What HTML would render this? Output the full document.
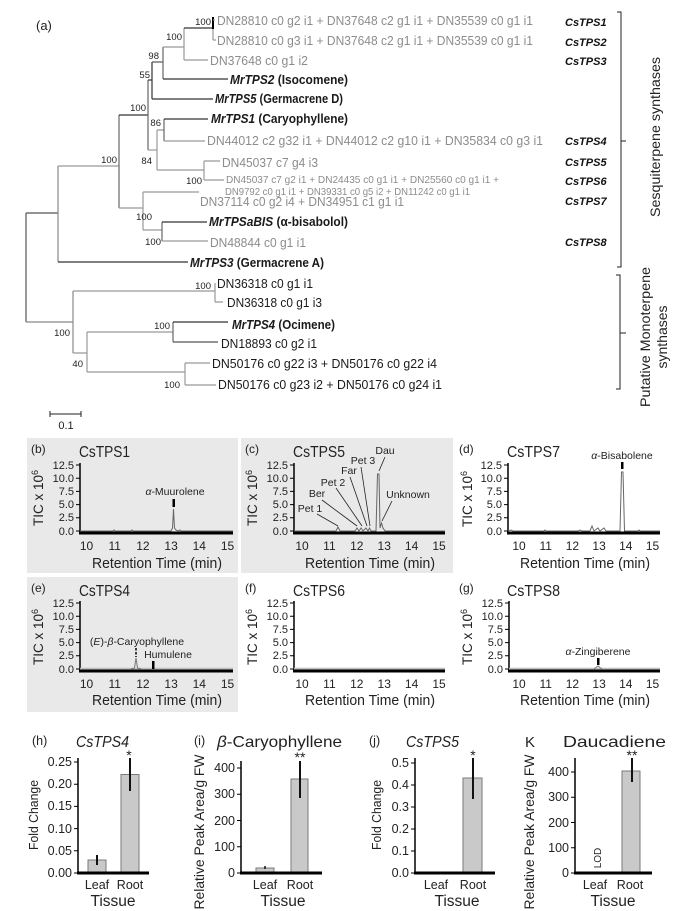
<!DOCTYPE html>
<html><head><meta charset="utf-8">
<style>
html,body{margin:0;padding:0;background:#fff;}
svg{display:block;font-family:"Liberation Sans","DejaVu Sans",sans-serif;}
.g{fill:#8c8c8c}
.k{fill:#1a1a1a}
.n{fill:#222;font-size:9.5px;text-anchor:end}
.cs{font-weight:bold;font-style:italic;font-size:11px;fill:#111}
.tl{font-size:11px;text-anchor:end;fill:#222}
.xl{font-size:12px;text-anchor:middle;fill:#222}
.ann{font-size:10.5px;text-anchor:middle;fill:#222}
.bl{font-size:12.5px;text-anchor:end;fill:#222}
.bx{font-size:12.5px;text-anchor:middle;fill:#222}
</style></head><body>
<svg width="678" height="911" viewBox="0 0 678 911" xmlns="http://www.w3.org/2000/svg">
<rect width="678" height="911" fill="#fff"/>

<!-- ============ (a) TREE ============ -->
<text x="36" y="30" font-size="13" fill="#222">(a)</text>
<g stroke-width="1.2" fill="none">
<path stroke="#555" d="M26,213V322 M26,213H58"/>
<path stroke="#888" d="M26,322H73 M58,166V262"/>
<path stroke="#333" d="M58,262H188"/>
<path stroke="#999" d="M58,166H119"/>
<path stroke="#666" d="M119,115V208"/>
<path stroke="#333" d="M119,115H148"/>
<path stroke="#999" d="M119,208H143"/>
<path stroke="#666" d="M148,80V150"/>
<path stroke="#333" d="M148,80H152"/>
<path stroke="#999" d="M148,150H157"/>
<path stroke="#333" d="M152,62V99 M152,99H213"/>
<path stroke="#555" d="M152,62H163"/>
<path stroke="#666" d="M163,47V79"/>
<path stroke="#999" d="M163,47H184"/>
<path stroke="#333" d="M163,79H228"/>
<path stroke="#999" d="M184,28V60 M184,60H208"/>
<path stroke="#333" d="M184,28H213"/>
<path stroke="#000" stroke-width="2" d="M213,17V29"/>
<path stroke="#999" d="M213,29V40 M213,40H216 M213,20H215"/>
<path stroke="#999" d="M157,130V170 M157,130H164 M157,170H204"/>
<path stroke="#666" d="M164,119V141"/>
<path stroke="#333" d="M164,119H208"/>
<path stroke="#999" d="M164,141H205 M204,161V180 M204,161H220 M204,180H224"/>
<path stroke="#999" d="M143,192V230 M143,192H199 M143,230H162"/>
<path stroke="#666" d="M162,222V241"/>
<path stroke="#333" d="M162,222H207"/>
<path stroke="#999" d="M162,241H208"/>
<path stroke="#888" d="M73,291V353"/>
<path stroke="#999" d="M73,291H215 M73,353H87 M215,283V302 M215,302H223 M87,332V372 M87,332H173 M87,372H185"/>
<path stroke="#666" d="M173,322V342"/>
<path stroke="#333" d="M173,322H228"/>
<path stroke="#555" d="M173,342H218"/>
<path stroke="#999" d="M185,363V385 M185,363H210 M185,385H216"/>
</g>

<g font-size="12.5">
<text x="217" y="25" class="g" textLength="316" lengthAdjust="spacingAndGlyphs">DN28810 c0 g2 i1 + DN37648 c2 g1 i1 + DN35539 c0 g1 i1</text>
<text x="217" y="45" class="g" textLength="316" lengthAdjust="spacingAndGlyphs">DN28810 c0 g3 i1 + DN37648 c2 g1 i1 + DN35539 c0 g1 i1</text>
<text x="210" y="65" class="g" textLength="98" lengthAdjust="spacingAndGlyphs">DN37648 c0 g1 i2</text>
<text x="230" y="84" class="k" font-weight="bold" textLength="118" lengthAdjust="spacingAndGlyphs"><tspan font-style="italic">MrTPS2</tspan> (Isocomene)</text>
<text x="215" y="103" class="k" font-weight="bold" textLength="128" lengthAdjust="spacingAndGlyphs"><tspan font-style="italic">MrTPS5</tspan> (Germacrene D)</text>
<text x="211" y="123" class="k" font-weight="bold" textLength="137" lengthAdjust="spacingAndGlyphs"><tspan font-style="italic">MrTPS1</tspan> (Caryophyllene)</text>
<text x="207" y="145" class="g" textLength="336" lengthAdjust="spacingAndGlyphs">DN44012 c2 g32 i1 + DN44012 c2 g10 i1 + DN35834 c0 g3 i1</text>
<text x="222" y="167" class="g" textLength="96" lengthAdjust="spacingAndGlyphs">DN45037 c7 g4 i3</text>
<text x="226" y="183" class="g" font-size="10.5" textLength="273" lengthAdjust="spacingAndGlyphs">DN45037 c7 g2 i1 + DN24435 c0 g1 i1 + DN25560 c0 g1 i1 +</text>
<text x="225" y="195" class="g" font-size="10.5" textLength="245" lengthAdjust="spacingAndGlyphs">DN9792 c0 g1 i1 + DN39331 c0 g5 i2 + DN11242 c0 g1 i1</text>
<text x="200" y="206" class="g" textLength="204" lengthAdjust="spacingAndGlyphs">DN37114 c0 g2 i4 + DN34951 c1 g1 i1</text>
<text x="209" y="226" class="k" font-weight="bold" textLength="139" lengthAdjust="spacingAndGlyphs"><tspan font-style="italic">MrTPSaBIS</tspan> (α-bisabolol)</text>
<text x="210" y="247" class="g" textLength="96" lengthAdjust="spacingAndGlyphs">DN48844 c0 g1 i1</text>
<text x="190" y="267" class="k" font-weight="bold" textLength="134" lengthAdjust="spacingAndGlyphs"><tspan font-style="italic">MrTPS3</tspan> (Germacrene A)</text>
<text x="217" y="288" class="k" textLength="96" lengthAdjust="spacingAndGlyphs">DN36318 c0 g1 i1</text>
<text x="227" y="307" class="k" textLength="95" lengthAdjust="spacingAndGlyphs">DN36318 c0 g1 i3</text>
<text x="232" y="329" class="k" font-weight="bold" textLength="103" lengthAdjust="spacingAndGlyphs"><tspan font-style="italic">MrTPS4</tspan> (Ocimene)</text>
<text x="221" y="348" class="k" textLength="96" lengthAdjust="spacingAndGlyphs">DN18893 c0 g2 i1</text>
<text x="212" y="368" class="k" textLength="225" lengthAdjust="spacingAndGlyphs">DN50176 c0 g22 i3 + DN50176 c0 g22 i4</text>
<text x="218" y="389" class="k" textLength="224" lengthAdjust="spacingAndGlyphs">DN50176 c0 g23 i2 + DN50176 c0 g24 i1</text>
</g>

<text x="565" y="26" class="cs">CsTPS1</text>
<text x="565" y="46" class="cs">CsTPS2</text>
<text x="565" y="65" class="cs">CsTPS3</text>
<text x="565" y="145" class="cs">CsTPS4</text>
<text x="565" y="166" class="cs">CsTPS5</text>
<text x="565" y="185" class="cs">CsTPS6</text>
<text x="565" y="205" class="cs">CsTPS7</text>
<text x="565" y="246" class="cs">CsTPS8</text>

<text x="211" y="25" class="n">100</text>
<text x="182" y="40" class="n">100</text>
<text x="159" y="59" class="n">98</text>
<text x="150" y="78" class="n">55</text>
<text x="146" y="111" class="n">100</text>
<text x="161" y="126" class="n">86</text>
<text x="152" y="164" class="n">84</text>
<text x="117" y="163" class="n">100</text>
<text x="202" y="184" class="n">100</text>
<text x="152" y="220" class="n">100</text>
<text x="161" y="245" class="n">100</text>
<text x="211" y="289" class="n">100</text>
<text x="170" y="329" class="n">100</text>
<text x="70" y="336" class="n">100</text>
<text x="83" y="367" class="n">40</text>
<text x="180" y="388" class="n">100</text>

<!-- brackets -->
<g stroke="#222" stroke-width="1" fill="none">
<path d="M617,12H621V267H617 M621,141H626"/>
<path d="M616,275H620V389H616 M620,333H626"/>
</g>
<text transform="translate(660,137) rotate(-90)" text-anchor="middle" font-size="14" fill="#222" textLength="160" lengthAdjust="spacingAndGlyphs">Sesquiterpene synthases</text>
<text transform="translate(650,337) rotate(-90)" text-anchor="middle" font-size="14" fill="#222" textLength="140" lengthAdjust="spacingAndGlyphs">Putative Monoterpene</text>
<text transform="translate(667,337) rotate(-90)" text-anchor="middle" font-size="14" fill="#222">synthases</text>

<!-- scale bar -->
<path d="M50,414H81 M50,411V417 M81,411V417" stroke="#222" stroke-width="1" fill="none"/>
<text x="66" y="429" font-size="11" text-anchor="middle" fill="#222">0.1</text>

<!-- ============ CHROMATOGRAMS ============ -->
<rect x="27" y="438" width="211" height="135" fill="#e9e9e9"/>
<rect x="241" y="438" width="212" height="135" fill="#e9e9e9"/>
<rect x="27" y="577" width="211" height="135" fill="#e9e9e9"/>

<!-- Panel b -->
<text x="31" y="453" font-size="12" fill="#222">(b)</text>
<text x="79" y="457" font-size="16" fill="#222" textLength="51" lengthAdjust="spacingAndGlyphs">CsTPS1</text>
<line x1="80" y1="463" x2="80" y2="534" stroke="#000" stroke-width="1.5"/>
<path d="M76,465H80 M76,478.2H80 M76,491.4H80 M76,504.6H80 M76,517.8H80 M76,531H80" stroke="#000" stroke-width="1"/>
<text x="74" y="469" class="tl">12.5</text><text x="74" y="482" class="tl">10.0</text><text x="74" y="495" class="tl">7.5</text><text x="74" y="508" class="tl">5.0</text><text x="74" y="521" class="tl">2.5</text><text x="74" y="535" class="tl">0.0</text>
<line x1="79" y1="533" x2="233" y2="533" stroke="#000" stroke-width="3"/>
<text x="86.5" y="550" class="xl">10</text><text x="114.7" y="550" class="xl">11</text><text x="142.9" y="550" class="xl">12</text><text x="171.1" y="550" class="xl">13</text><text x="199.3" y="550" class="xl">14</text><text x="227.5" y="550" class="xl">15</text>
<text x="157" y="568" font-size="15" text-anchor="middle" fill="#222" textLength="130" lengthAdjust="spacingAndGlyphs">Retention Time (min)</text>
<text transform="translate(43,498) rotate(-90)" text-anchor="middle" font-size="13.5" fill="#222">TIC x 10<tspan dy="-5" font-size="9">6</tspan></text>
<path d="M80,531H113l1,-1l1,1H131l1,-1l1,1H171L172.5,528L173.5,509L174.5,528L176,530L178,531L180,530l1,1H233" stroke="#666" stroke-width="1" fill="none"/>
<rect x="172.5" y="499" width="2.5" height="8" fill="#000"/>
<text x="175" y="495" class="ann"><tspan font-style="italic">α</tspan>-Muurolene</text>

<!-- Panel c -->
<text x="245" y="453" font-size="12" fill="#222">(c)</text>
<text x="293" y="457" font-size="16" fill="#222" textLength="52" lengthAdjust="spacingAndGlyphs">CsTPS5</text>
<line x1="294" y1="463" x2="294" y2="534" stroke="#000" stroke-width="1.5"/>
<path d="M290,465H294 M290,478.2H294 M290,491.4H294 M290,504.6H294 M290,517.8H294 M290,531H294" stroke="#000" stroke-width="1"/>
<text x="288" y="469" class="tl">12.5</text><text x="288" y="482" class="tl">10.0</text><text x="288" y="495" class="tl">7.5</text><text x="288" y="508" class="tl">5.0</text><text x="288" y="521" class="tl">2.5</text><text x="288" y="535" class="tl">0.0</text>
<line x1="293" y1="533" x2="445" y2="533" stroke="#000" stroke-width="3"/>
<text x="302" y="550" class="xl">10</text><text x="329.4" y="550" class="xl">11</text><text x="356.8" y="550" class="xl">12</text><text x="384.2" y="550" class="xl">13</text><text x="411.6" y="550" class="xl">14</text><text x="439" y="550" class="xl">15</text>
<text x="370" y="568" font-size="15" text-anchor="middle" fill="#222" textLength="130" lengthAdjust="spacingAndGlyphs">Retention Time (min)</text>
<text transform="translate(257,498) rotate(-90)" text-anchor="middle" font-size="13.5" fill="#222">TIC x 10<tspan dy="-5" font-size="9">6</tspan></text>
<path d="M294,531H336L338,527L340,531H355L357,528L359,531L361,528L363,531L366,528L368,531L369.5,528L371,531H376L377.5,474L379,474L380,528L381.5,523L383,528L385,531H445" stroke="#666" stroke-width="1" fill="none"/>
<g stroke="#222" stroke-width="0.8">
<line x1="317" y1="514" x2="338" y2="526"/>
<line x1="322" y1="500" x2="357" y2="526"/>
<line x1="336" y1="488" x2="362" y2="526"/>
<line x1="350" y1="477" x2="367" y2="526"/>
<line x1="361" y1="467" x2="370" y2="526"/>
<line x1="385" y1="457" x2="379" y2="471"/>
<line x1="392" y1="501" x2="382" y2="521"/>
</g>
<text x="310" y="512" class="ann">Pet 1</text>
<text x="317" y="497" class="ann">Ber</text>
<text x="333" y="486" class="ann">Pet 2</text>
<text x="349" y="474" class="ann">Far</text>
<text x="363" y="464" class="ann">Pet 3</text>
<text x="385" y="454" class="ann">Dau</text>
<text x="408" y="498" class="ann">Unknown</text>

<!-- Panel d -->
<text x="459" y="453" font-size="12" fill="#222">(d)</text>
<text x="507" y="457" font-size="16" fill="#222" textLength="53" lengthAdjust="spacingAndGlyphs">CsTPS7</text>
<line x1="508" y1="463" x2="508" y2="534" stroke="#000" stroke-width="1.5"/>
<path d="M504,465H508 M504,478.2H508 M504,491.4H508 M504,504.6H508 M504,517.8H508 M504,531H508" stroke="#000" stroke-width="1"/>
<text x="502" y="469" class="tl">12.5</text><text x="502" y="482" class="tl">10.0</text><text x="502" y="495" class="tl">7.5</text><text x="502" y="508" class="tl">5.0</text><text x="502" y="521" class="tl">2.5</text><text x="502" y="535" class="tl">0.0</text>
<line x1="507" y1="533" x2="660" y2="533" stroke="#000" stroke-width="3"/>
<text x="519" y="550" class="xl">10</text><text x="545.7" y="550" class="xl">11</text><text x="572.4" y="550" class="xl">12</text><text x="599.1" y="550" class="xl">13</text><text x="625.8" y="550" class="xl">14</text><text x="652.5" y="550" class="xl">15</text>
<text x="585" y="568" font-size="15" text-anchor="middle" fill="#222" textLength="130" lengthAdjust="spacingAndGlyphs">Retention Time (min)</text>
<text transform="translate(472,499) rotate(-90)" text-anchor="middle" font-size="13.5" fill="#222">TIC x 10<tspan dy="-5" font-size="9">6</tspan></text>
<path d="M508,531l3,-1l2,1H544l1,-1l1,1H578l2,-1l2,1H590L592,526L594,531L598,528L600,531L604,528L606,531H620L621.5,472L623,472L624.5,531H638l1,-1l1,1H660" stroke="#666" stroke-width="1" fill="none"/>
<rect x="621" y="462" width="2.5" height="7" fill="#000"/>
<text x="622" y="459" class="ann"><tspan font-style="italic">α</tspan>-Bisabolene</text>

<!-- Panel e -->
<text x="31" y="592" font-size="12" fill="#222">(e)</text>
<text x="79" y="596" font-size="16" fill="#222" textLength="51" lengthAdjust="spacingAndGlyphs">CsTPS4</text>
<line x1="80" y1="601" x2="80" y2="672" stroke="#000" stroke-width="1.5"/>
<path d="M76,603H80 M76,616.2H80 M76,629.4H80 M76,642.6H80 M76,655.8H80 M76,669H80" stroke="#000" stroke-width="1"/>
<text x="74" y="607" class="tl">12.5</text><text x="74" y="620" class="tl">10.0</text><text x="74" y="633" class="tl">7.5</text><text x="74" y="646" class="tl">5.0</text><text x="74" y="659" class="tl">2.5</text><text x="74" y="673" class="tl">0.0</text>
<line x1="80" y1="669" x2="233" y2="669" stroke="#bdbdbd" stroke-width="2.5"/>
<line x1="79" y1="671" x2="233" y2="671" stroke="#000" stroke-width="3"/>
<text x="86.5" y="688" class="xl">10</text><text x="114.7" y="688" class="xl">11</text><text x="142.9" y="688" class="xl">12</text><text x="171.1" y="688" class="xl">13</text><text x="199.3" y="688" class="xl">14</text><text x="227.5" y="688" class="xl">15</text>
<text x="157" y="705" font-size="15" text-anchor="middle" fill="#222" textLength="130" lengthAdjust="spacingAndGlyphs">Retention Time (min)</text>
<text transform="translate(43,637) rotate(-90)" text-anchor="middle" font-size="13.5" fill="#222">TIC x 10<tspan dy="-5" font-size="9">6</tspan></text>
<path d="M131,669L134.5,668L136,658L137.5,668L141,669" stroke="#777" stroke-width="1" fill="none"/>
<line x1="136" y1="648" x2="136" y2="657" stroke="#000" stroke-width="1.5" stroke-dasharray="2.5,1.5"/>
<rect x="152" y="661" width="2.5" height="8" fill="#000"/>
<text x="137" y="645" class="ann">(<tspan font-style="italic">E</tspan>)-<tspan font-style="italic">β</tspan>-Caryophyllene</text>
<text x="168" y="658" class="ann">Humulene</text>

<!-- Panel f -->
<text x="245" y="592" font-size="12" fill="#222">(f)</text>
<text x="293" y="596" font-size="16" fill="#222" textLength="52" lengthAdjust="spacingAndGlyphs">CsTPS6</text>
<line x1="294" y1="601" x2="294" y2="672" stroke="#000" stroke-width="1.5"/>
<path d="M290,603H294 M290,616.2H294 M290,629.4H294 M290,642.6H294 M290,655.8H294 M290,669H294" stroke="#000" stroke-width="1"/>
<text x="288" y="607" class="tl">12.5</text><text x="288" y="620" class="tl">10.0</text><text x="288" y="633" class="tl">7.5</text><text x="288" y="646" class="tl">5.0</text><text x="288" y="659" class="tl">2.5</text><text x="288" y="673" class="tl">0.0</text>
<line x1="294" y1="669" x2="445" y2="669" stroke="#bdbdbd" stroke-width="2.5"/>
<line x1="293" y1="671" x2="445" y2="671" stroke="#000" stroke-width="3"/>
<text x="302" y="688" class="xl">10</text><text x="329.4" y="688" class="xl">11</text><text x="356.8" y="688" class="xl">12</text><text x="384.2" y="688" class="xl">13</text><text x="411.6" y="688" class="xl">14</text><text x="439" y="688" class="xl">15</text>
<text x="370" y="705" font-size="15" text-anchor="middle" fill="#222" textLength="130" lengthAdjust="spacingAndGlyphs">Retention Time (min)</text>
<text transform="translate(257,637) rotate(-90)" text-anchor="middle" font-size="13.5" fill="#222">TIC x 10<tspan dy="-5" font-size="9">6</tspan></text>

<!-- Panel g -->
<text x="459" y="592" font-size="12" fill="#222">(g)</text>
<text x="507" y="596" font-size="16" fill="#222" textLength="53" lengthAdjust="spacingAndGlyphs">CsTPS8</text>
<line x1="509" y1="601" x2="509" y2="672" stroke="#000" stroke-width="1.5"/>
<path d="M505,603H509 M505,616.2H509 M505,629.4H509 M505,642.6H509 M505,655.8H509 M505,669H509" stroke="#000" stroke-width="1"/>
<text x="503" y="607" class="tl">12.5</text><text x="503" y="620" class="tl">10.0</text><text x="503" y="633" class="tl">7.5</text><text x="503" y="646" class="tl">5.0</text><text x="503" y="659" class="tl">2.5</text><text x="503" y="673" class="tl">0.0</text>
<line x1="509" y1="669" x2="660" y2="669" stroke="#bdbdbd" stroke-width="2.5"/>
<line x1="508" y1="671" x2="660" y2="671" stroke="#000" stroke-width="3"/>
<text x="519" y="688" class="xl">10</text><text x="545.7" y="688" class="xl">11</text><text x="572.4" y="688" class="xl">12</text><text x="599.1" y="688" class="xl">13</text><text x="625.8" y="688" class="xl">14</text><text x="652.5" y="688" class="xl">15</text>
<text x="585" y="705" font-size="15" text-anchor="middle" fill="#222" textLength="130" lengthAdjust="spacingAndGlyphs">Retention Time (min)</text>
<text transform="translate(472,637) rotate(-90)" text-anchor="middle" font-size="13.5" fill="#222">TIC x 10<tspan dy="-5" font-size="9">6</tspan></text>
<path d="M594,669L598,666L602,669" stroke="#777" stroke-width="1" fill="none"/>
<rect x="597" y="658" width="2.5" height="7" fill="#000"/>
<text x="598" y="655" class="ann"><tspan font-style="italic">α</tspan>-Zingiberene</text>

<!-- ============ BAR CHARTS ============ -->
<!-- h -->
<text x="32" y="745" font-size="12.5" fill="#222">(h)</text>
<text x="76" y="747" font-size="16" font-style="italic" fill="#222" textLength="53" lengthAdjust="spacingAndGlyphs">CsTPS4</text>
<line x1="78" y1="758" x2="78" y2="874" stroke="#000" stroke-width="1.5"/>
<path d="M74,762H78 M74,784.2H78 M74,806.4H78 M74,828.6H78 M74,850.8H78 M74,873H78" stroke="#000" stroke-width="1"/>
<text x="72" y="766" class="bl">0.25</text><text x="72" y="788" class="bl">0.20</text><text x="72" y="810" class="bl">0.15</text><text x="72" y="833" class="bl">0.10</text><text x="72" y="855" class="bl">0.05</text><text x="72" y="877" class="bl">0.00</text>
<rect x="88" y="860" width="18" height="13" fill="#c9c9c9" stroke="#7a7a7a" stroke-width="1"/>
<rect x="121" y="774.5" width="18" height="98.5" fill="#c9c9c9" stroke="#7a7a7a" stroke-width="1"/>
<line x1="77" y1="873" x2="149" y2="873" stroke="#000" stroke-width="3"/>
<line x1="97" y1="855" x2="97" y2="865" stroke="#111" stroke-width="2"/>
<line x1="130" y1="758" x2="130" y2="791" stroke="#111" stroke-width="2"/>
<text x="129" y="760" font-size="14" text-anchor="middle" fill="#222">*</text>
<text x="97" y="889" class="bx">Leaf</text><text x="130" y="889" class="bx">Root</text>
<text x="113" y="906" font-size="15.5" text-anchor="middle" fill="#222">Tissue</text>
<text transform="translate(38,815) rotate(-90)" text-anchor="middle" font-size="13" fill="#222" textLength="70" lengthAdjust="spacingAndGlyphs">Fold Change</text>

<!-- i -->
<text x="194" y="745" font-size="12.5" fill="#222">(i)</text>
<text x="217" y="747" font-size="16" fill="#222" textLength="125" lengthAdjust="spacingAndGlyphs"><tspan font-style="italic">β</tspan>-Caryophyllene</text>
<line x1="241" y1="761" x2="241" y2="874" stroke="#000" stroke-width="1.5"/>
<path d="M237,768H241 M237,794.3H241 M237,820.5H241 M237,846.8H241 M237,873H241" stroke="#000" stroke-width="1"/>
<text x="235" y="772" class="bl">400</text><text x="235" y="798" class="bl">300</text><text x="235" y="825" class="bl">200</text><text x="235" y="851" class="bl">100</text><text x="235" y="877" class="bl">0</text>
<rect x="256" y="868" width="18" height="5" fill="#c9c9c9" stroke="#7a7a7a" stroke-width="1"/>
<rect x="291" y="779" width="17" height="94" fill="#c9c9c9" stroke="#7a7a7a" stroke-width="1"/>
<line x1="240" y1="873" x2="322" y2="873" stroke="#000" stroke-width="3"/>
<line x1="265" y1="866" x2="265" y2="869" stroke="#111" stroke-width="1.5"/>
<line x1="300" y1="761" x2="300" y2="798" stroke="#111" stroke-width="2"/>
<text x="300" y="762" font-size="14" text-anchor="middle" fill="#222">**</text>
<text x="265" y="889" class="bx">Leaf</text><text x="300" y="889" class="bx">Root</text>
<text x="283" y="906" font-size="15.5" text-anchor="middle" fill="#222">Tissue</text>
<text transform="translate(204,832) rotate(-90)" text-anchor="middle" font-size="14" fill="#222" textLength="155" lengthAdjust="spacingAndGlyphs">Relative Peak Area/g FW</text>

<!-- j -->
<text x="369" y="745" font-size="12.5" fill="#222">(j)</text>
<text x="406" y="747" font-size="16" font-style="italic" fill="#222" textLength="53" lengthAdjust="spacingAndGlyphs">CsTPS5</text>
<line x1="415" y1="758" x2="415" y2="874" stroke="#000" stroke-width="1.5"/>
<path d="M411,763H415 M411,785H415 M411,807H415 M411,829H415 M411,851H415 M411,873H415" stroke="#000" stroke-width="1"/>
<text x="409" y="767" class="bl">0.5</text><text x="409" y="789" class="bl">0.4</text><text x="409" y="811" class="bl">0.3</text><text x="409" y="833" class="bl">0.2</text><text x="409" y="855" class="bl">0.1</text><text x="409" y="877" class="bl">0.0</text>
<rect x="463" y="778" width="19" height="95" fill="#c9c9c9" stroke="#7a7a7a" stroke-width="1"/>
<line x1="414" y1="873" x2="495" y2="873" stroke="#000" stroke-width="3"/>
<line x1="473" y1="758" x2="473" y2="799" stroke="#111" stroke-width="2"/>
<text x="473" y="760" font-size="14" text-anchor="middle" fill="#222">*</text>
<text x="436" y="889" class="bx">Leaf</text><text x="473" y="889" class="bx">Root</text>
<text x="457" y="906" font-size="15.5" text-anchor="middle" fill="#222">Tissue</text>
<text transform="translate(381,815) rotate(-90)" text-anchor="middle" font-size="13" fill="#222" textLength="70" lengthAdjust="spacingAndGlyphs">Fold Change</text>

<!-- k -->
<text x="525" y="747" font-size="15" fill="#222">K</text>
<text x="563" y="747" font-size="16" fill="#222" textLength="103" lengthAdjust="spacingAndGlyphs">Daucadiene</text>
<line x1="575" y1="758" x2="575" y2="874" stroke="#000" stroke-width="1.5"/>
<path d="M571,772H575 M571,797.3H575 M571,822.5H575 M571,847.8H575 M571,873H575" stroke="#000" stroke-width="1"/>
<text x="569" y="776" class="bl">400</text><text x="569" y="801" class="bl">300</text><text x="569" y="827" class="bl">200</text><text x="569" y="852" class="bl">100</text><text x="569" y="877" class="bl">0</text>
<rect x="622" y="771" width="18" height="102" fill="#c9c9c9" stroke="#7a7a7a" stroke-width="1"/>
<line x1="574" y1="873" x2="652" y2="873" stroke="#000" stroke-width="3"/>
<line x1="632" y1="758" x2="632" y2="782" stroke="#111" stroke-width="2"/>
<text x="632" y="760" font-size="14" text-anchor="middle" fill="#222">**</text>
<text transform="translate(601,858) rotate(-90)" text-anchor="middle" font-size="10" fill="#222">LOD</text>
<text x="595" y="889" class="bx">Leaf</text><text x="630" y="889" class="bx">Root</text>
<text x="613" y="906" font-size="15.5" text-anchor="middle" fill="#222">Tissue</text>
<text transform="translate(534,832) rotate(-90)" text-anchor="middle" font-size="14" fill="#222" textLength="155" lengthAdjust="spacingAndGlyphs">Relative Peak Area/g FW</text>
</svg>
</body></html>
